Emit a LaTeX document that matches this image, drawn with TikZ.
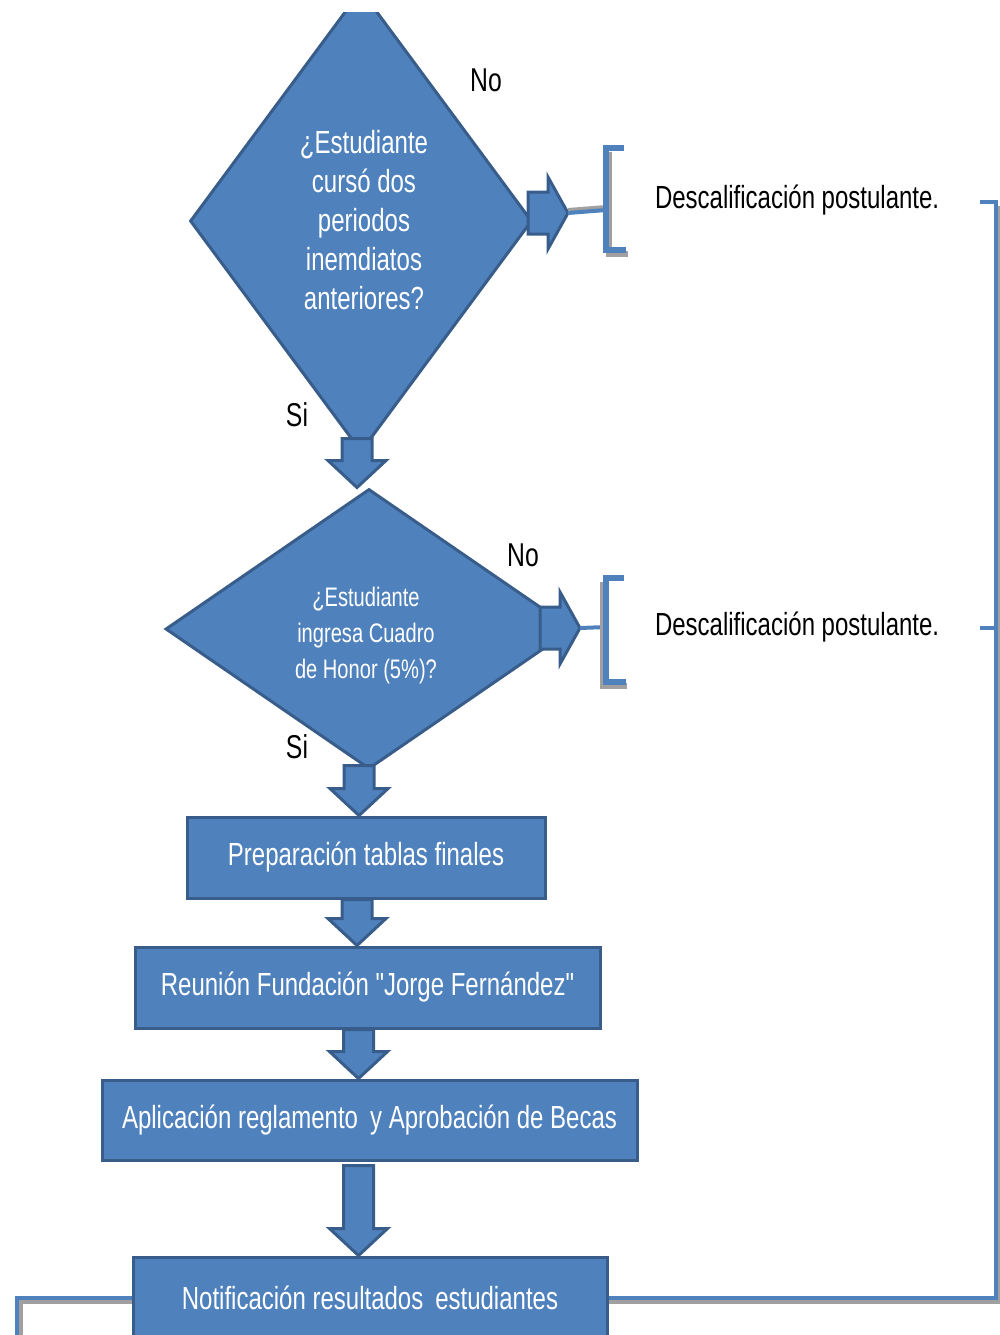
\documentclass[tikz,border=0pt]{standalone}
\usepackage{fontspec}
\setmainfont{Liberation Sans}[FakeStretch=0.75,Ligatures=TeXOff]
\usetikzlibrary{shapes.geometric,calc}
\definecolor{bfill}{HTML}{4F81BD}
\definecolor{bline}{HTML}{385D8A}
\definecolor{shadegray}{HTML}{A0A0A0}
\newcommand\vblock[2]{%
  \draw[blk] let \p1=(#1), \p2=(#2) in
    (\x1-7.5pt,\y1) -- (\x1-7.5pt,\y2+13.5pt) -- (\x1-14.5pt,\y2+13.5pt) --
    (\x1,\y2) -- (\x1+14.5pt,\y2+13.5pt) -- (\x1+7.5pt,\y2+13.5pt) --
    (\x1+7.5pt,\y1) -- cycle;}
\newcommand\hblock[2]{%
  \draw[blk] let \p1=(#1), \p2=(#2) in
    (\x1,\y2+10.5pt) -- (\x2-10pt,\y2+10.5pt) -- (\x2-10pt,\y2+18pt) --
    (\x2,\y2) -- (\x2-10pt,\y2-18pt) -- (\x2-10pt,\y2-10.5pt) --
    (\x1,\y2-10.5pt) -- cycle;}
\begin{document}
\begin{tikzpicture}[x=0.5pt,y=-0.5pt,
  blk/.style={fill=bfill,draw=bline,line width=1.5pt,line join=miter},
  dia/.style={shape=diamond,fill=bfill,draw=bline,line width=1.5pt,inner sep=0pt},
  boxn/.style={rectangle,fill=bfill,draw=bline,line width=1.5pt,inner sep=0pt,
    text=white,font=\fontsize{16}{19}\selectfont},
  dtext/.style={text=white,align=center},
  lbl/.style={font=\fontsize{16.5}{19}\selectfont,text=black},
  desc/.style={font=\fontsize{16}{19}\selectfont,text=black,anchor=west},
  conn/.style={draw=bfill,line width=2pt},
  shd/.style={draw=shadegray,line width=2pt},
  brkshd/.style={draw=shadegray,line width=2.6pt},
  brk/.style={draw=bfill,line width=2.6pt}]
\useasboundingbox (0,0) rectangle (1000,1335);
\clip (0,0) rectangle (1000,1335);

% first decision (top clipped)
\begin{scope}
\clip (0,12) rectangle (1000,1335);
\node[dia,minimum width=171pt,minimum height=231pt] (d1) at (361,221) {};
\end{scope}
\node[dtext,font=\fontsize{16}{19.4}\selectfont] (d1t) at (364,220)
  {¿Estudiante\\cursó dos\\periodos\\inemdiatos\\anteriores?};

% second decision
\node[dia,minimum width=203.5pt,minimum height=140pt] (d2) at (369,629) {};
\node[dtext,font=\fontsize{13.4}{18}\selectfont] (d2t) at (366,636)
  {¿Estudiante\\ingresa Cuadro\\de Honor (5\%)?};

% process boxes
\node[boxn,minimum width=179pt,minimum height=40.5pt] (n1) at (366,857.5) {Preparación tablas finales};
\node[boxn,minimum width=232.5pt,minimum height=40.5pt] (n2) at (367.5,987.5) {Reunión Fundación "Jorge Fernández"};
\node[boxn,minimum width=267.5pt,minimum height=40pt] (n3) at (369.5,1120) {Aplicación reglamento\, y Aprobación de Becas};
\node[boxn,minimum width=237pt,minimum height=41pt] (n4) at (370,1298) {Notificación resultados\, estudiantes};

% labels
\node[lbl] (no1) at (486,80) {No};
\node[lbl] (si1) at (297,415) {Si};
\node[lbl] (no2) at (523,555) {No};
\node[lbl] (si2) at (297,747) {Si};

% down block arrows
\vblock{$(d1.south)+(-4,-15)$}{d2.north}
\vblock{$(d2.south)+(-10,-5)$}{n1.north}
\vblock{$(n1.south)+(-9,0)$}{n2.north}
\vblock{$(n2.south)+(-9,0)$}{n3.north}
\vblock{$(n3.south)+(-11,4)$}{n4.north}

% right block arrows
\coordinate (s1) at (528,213);
\coordinate (t1) at (568,213);
\coordinate (s2) at (540,628);
\coordinate (t2) at (580,628);
\hblock{s1}{t1}
\hblock{s2}{t2}

% annotations with brackets
\coordinate (b1) at (606,210);
\coordinate (b2) at (606,627);
\draw[shd] ($(t1)+(0,-3)$) -- ($(b1)+(0,-3)$);
\draw[conn] (t1) -- (b1);
\draw[conn] (t2) -- (b2);
\draw[brkshd] (609,152) -- (609,254) -- (628,254);
\draw[brk] (624,148) -- (606,148) -- (606,250) -- (626,250);
\draw[brkshd] (603,582) -- (603,686) -- (627,686);
\draw[brk] (624,578) -- (606,578) -- (606,682) -- (626,682);
\node[desc] (q1) at (648,200) {Descalificación postulante.};
\node[desc] (q2) at (648,627) {Descalificación postulante.};

% return lines
\coordinate (rt) at (996,202);
\coordinate (rts) at (980,202);
\coordinate (rm) at (980,628);
\coordinate (rmv) at (996,628);
\coordinate (lb) at (17,1345);
\draw[shd] ($(n4.east)+(0,4)$) -- (999,1302) -- (999,206);
\draw[conn,line width=2.4pt] (n4.east) -| (rt) -- (rts);
\draw[conn,line width=2.4pt] (rm) -- (rmv);
\draw[shd] ($(n4.west)+(0,4)$) -- (21,1302) -- (21,1345);
\draw[conn,line width=2.4pt] (n4.west) -| (lb);
\end{tikzpicture}
\end{document}
